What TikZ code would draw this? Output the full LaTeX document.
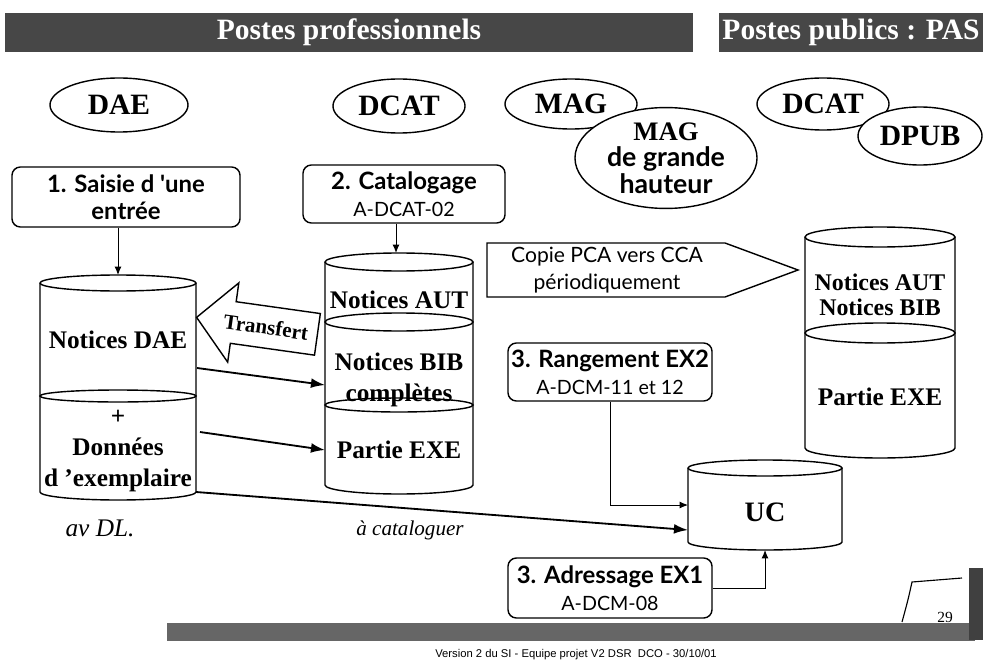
\documentclass[tikz,border=0pt]{standalone}
\usepackage{fontspec}
\setmainfont{Liberation Serif}
\newfontfamily\boxfont{Lato}
\newfontfamily\piedfont{Liberation Sans}
\usetikzlibrary{arrows.meta, positioning, shapes.geometric}

% tambour (base de donnees) : x centre, demi-largeur, y haut, y bas, rayon vertical
\newcommand{\tambour}[5]{%
  \draw[line width=1pt, fill=white] (#1-#2,#3) -- (#1-#2,#4)
    arc[start angle=180, end angle=360, x radius=#2, y radius=#5] -- (#1+#2,#3);
  \draw[line width=1pt] (#1,#3) ellipse [x radius=#2, y radius=#5];
}

\tikzset{
  poste/.style={ellipse, draw, line width=1pt, fill=white, inner sep=0pt, font=\fontsize{21}{21}\selectfont\bfseries},
  etape/.style={rectangle, rounded corners=6pt, draw, line width=1pt, fill=white, align=center, inner sep=0pt, font=\boxfont\fontsize{17}{19}\selectfont},
  bande/.style={rectangle, fill=black!72, text=white, inner sep=0pt, font=\fontsize{21}{21}\selectfont\bfseries},
  base/.style={align=center, inner sep=0pt, font=\fontsize{18}{22}\selectfont\bfseries},
  flux/.style={-{Latex[length=10pt,width=7pt]}, line width=1.3pt},
  lien/.style={-{Latex[length=6pt,width=5pt]}, line width=0.7pt}
}

\begin{document}
\begin{tikzpicture}[x=0.025cm, y=0.025cm]
  \useasboundingbox (0,0) rectangle (983,-662);

  % bandeaux
  \node[bande, minimum width=17.2cm, minimum height=0.975cm] (pro) at (349,-32.5) {Postes professionnels};
  \node[bande, minimum width=6.6cm, minimum height=0.975cm] (pub) at (851,-32.5) {Postes publics : PAS};

  % postes
  \node[poste, minimum width=3.45cm, minimum height=1.35cm] (dae) at (119,-105) {DAE};
  \node[poste, minimum width=3.3cm, minimum height=1.35cm] (dcat) at (399,-106) {DCAT};
  \node[poste, minimum width=3.3cm, minimum height=1.25cm] (mag) at (571,-104) {MAG};
  \node[poste, minimum width=4.55cm, minimum height=2.33cm, align=center, font=\fontsize{19}{19}\selectfont\bfseries]
    (maggh) at (666,-158) {MAG\\{\boxfont de grande}\\{\boxfont hauteur}};
  \node[poste, minimum width=3.3cm, minimum height=1.3cm] (dcatp) at (823,-104) {DCAT};
  \node[poste, minimum width=3.1cm, minimum height=1.45cm] (dpub) at (920,-136) {DPUB};

  % etapes
  \node[etape, minimum width=5.7cm, minimum height=1.5cm] (saisie) at (126,-197) {\bfseries 1. Saisie d 'une\\\bfseries entrée};
  \node[etape, minimum width=5.05cm, minimum height=1.45cm] (catal) at (404,-194) {\bfseries 2. Catalogage\\{\fontsize{14}{16}\selectfont A-DCAT-02}};
  \node[etape, minimum width=5.1cm, minimum height=1.45cm] (range) at (610,-372) {\bfseries 3. Rangement EX2\\{\fontsize{14}{16}\selectfont A-DCM-11 et 12}};
  \node[etape, minimum width=5.1cm, minimum height=1.5cm] (adres) at (610,-588) {\bfseries 3. Adressage EX1\\{\fontsize{14}{16}\selectfont A-DCM-08}};

  % bases
  \tambour{118}{78}{-283}{-492}{8}
  \draw[line width=1pt] (118,-396) ellipse [x radius=78, y radius=6];
  \tambour{399}{74}{-262}{-485}{9}
  \draw[line width=1pt] (399,-322) ellipse [x radius=74, y radius=9];
  \draw[line width=1pt] (399,-405) ellipse [x radius=74, y radius=7];
  \tambour{880}{75}{-237}{-448}{10}
  \draw[line width=1pt] (880,-333) ellipse [x radius=75, y radius=10];
  \tambour{765}{77}{-468}{-542}{8}

  \node[base] (daenot) at (118,-340) {Notices DAE};
  \node[base] (daeex) at (118,-451) {+\\Données\\d 'exemplaire};
  \node[base] (aut) at (399,-300) {Notices AUT};
  \node[base] (bib) at (399,-380) {Notices BIB\\complètes};
  \node[base] (exe) at (399,-450) {Partie EXE};
  \node[base, font=\fontsize{17}{18}\selectfont\bfseries] (pasnot) at (880,-295) {Notices AUT\\Notices BIB};
  \node[base] (pasexe) at (880,-397) {Partie EXE};
  \node[base, font=\fontsize{20}{20}\selectfont\bfseries] (uc) at (765,-512) {UC};

  % copie periodique
  \draw[line width=1pt, fill=white] (487,-243) -- (725,-243) -- (798,-270) -- (725,-297) -- (487,-297) -- cycle;
  \node[align=center, font=\boxfont\fontsize{15}{19}\selectfont] (copie) at (607,-270) {Copie PCA vers CCA\\périodiquement};

  % transfert
  \begin{scope}[shift={(258,-326)}, rotate=-8]
    \draw[line width=1pt, fill=white] (-62,0) -- (-25,40) -- (-25,21) -- (60,21) -- (60,-21) -- (-25,-21) -- (-25,-40) -- cycle;
    \node[rotate=-8, font=\fontsize{15}{15}\selectfont\bfseries] (transfert) at (8,0) {Transfert};
  \end{scope}

  % points d'entree
  \coordinate (daeHaut) at (118,-275);
  \coordinate (dcatHaut) at (396,-253);
  \coordinate (daeS1) at (197,-368);
  \coordinate (bibE) at (325,-385);
  \coordinate (daeS2) at (200,-432);
  \coordinate (exeE) at (325,-450);
  \coordinate (daeS3) at (196,-492);
  \coordinate (ucE1) at (688,-530);
  \coordinate (ucE2) at (688,-505);
  \coordinate (ucBas) at (765,-550);

  \draw[lien] (saisie.south -| daeHaut) -- (daeHaut);
  \draw[lien] (catal.south -| dcatHaut) -- (dcatHaut);
  \draw[flux] (daeS1) -- (bibE);
  \draw[flux] (daeS2) -- (exeE);
  \draw[flux] (daeS3) -- (ucE1);
  \draw[lien] (range.south) |- (ucE2);
  \draw[lien] (adres.east) -| (ucBas);

  % annotations manuscrites
  \node[font=\fontsize{18}{18}\selectfont\itshape] (note1) at (100,-528) {av DL.};
  \node[font=\fontsize{15}{15}\selectfont\itshape] (note2) at (410,-530) {à cataloguer};

  % pied de page
  \fill[black!60] (167,-623) rectangle (975,-641);
  \fill[black!75] (969,-568) rectangle (983,-640);
  \draw[line width=0.8pt] (902,-622) .. controls (908,-600) .. (912,-582) -- (962,-578);
  \node[font=\fontsize{11}{11}\selectfont] (page) at (945,-617) {29};
  \node[font=\piedfont\fontsize{8}{8}\selectfont] (pied) at (576,-655) {Version 2 du SI - Equipe projet V2 DSR\ \ DCO - 30/10/01};
\end{tikzpicture}
\end{document}
